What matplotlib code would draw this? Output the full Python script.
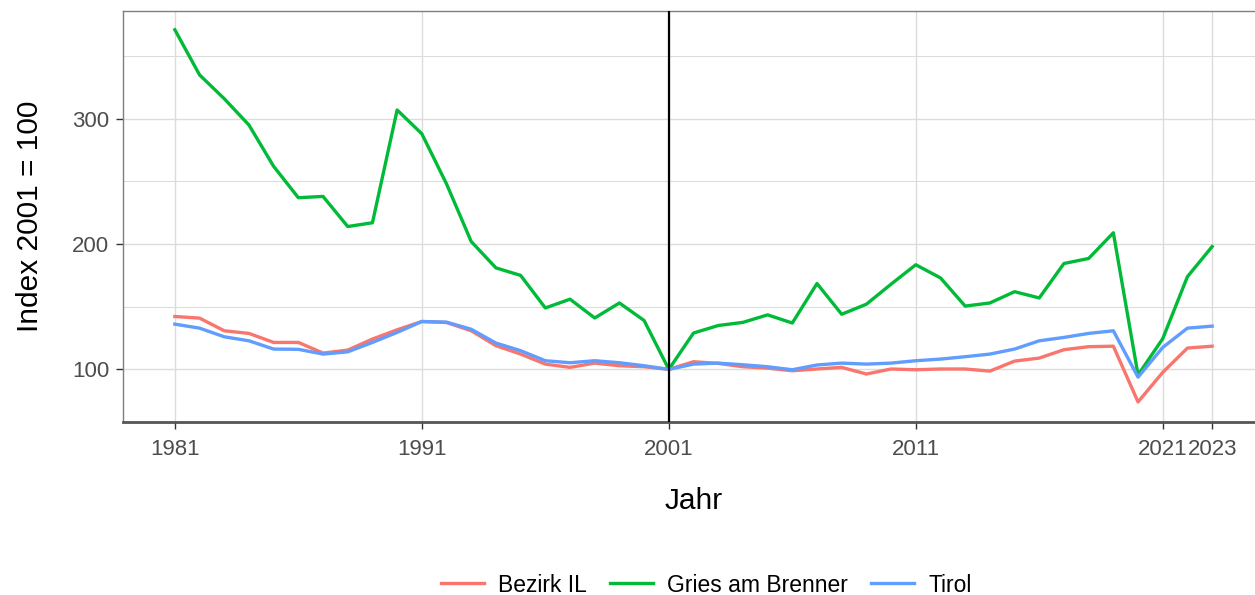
import matplotlib
matplotlib.use("Agg")
import matplotlib.pyplot as plt
from matplotlib.ticker import FixedLocator

plt.rcParams['font.family'] = ['Liberation Sans', 'DejaVu Sans']

years = list(range(1981, 2024))

gries = [371, 335, 316, 295, 262, 237, 238, 214, 217, 307,
         288, 248, 202, 181, 175, 149, 156, 141, 153, 139,
         100, 129, 135, 137.5, 143.5, 137, 168.5, 144, 152, 168,
         183.5, 173, 150.5, 153, 162, 157, 184.5, 188.5, 209,
         95.5, 124.5, 174, 198]

bezirk = [142.2, 140.9, 130.8, 128.7, 121.5, 121.5, 113, 115.4, 124.2, 131.6,
          138.2, 137.4, 130.8, 118.9, 112.2, 104.2, 101.6, 105, 102.9, 102.1,
          100, 106.1, 104.8, 102.1, 101, 98.9, 100.3, 101.6, 96.3, 100.3,
          99.7, 100.3, 100.3, 98.6, 106.6, 109, 115.7, 118.1, 118.5,
          74, 97.6, 117, 118.5]

tirol = [136.1, 132.9, 126, 122.8, 116.2, 116, 112.2, 114, 121.5, 129.5,
         138.2, 137.7, 132, 121, 114.9, 106.9, 105.3, 106.9, 105.3, 102.9,
         100, 104.2, 105, 103.7, 102.1, 99.7, 103.5, 105, 104.2, 105,
         106.9, 108.2, 110.1, 112.2, 116.2, 122.8, 125.5, 128.7, 130.8,
         93.8, 117.5, 132.9, 134.5]

series_names = ["Bezirk IL", "Gries am Brenner", "Tirol"]
series_colors = ["#F8766D", "#00BA38", "#619CFF"]
x_ticks = [1981, 1991, 2001, 2011, 2021, 2023]
y_ticks = [100, 200, 300]
y_minor = [150, 250, 350]

W, H = 1255, 595
fig = plt.figure(figsize=(W / 100, H / 100), dpi=100)
left, right, top, bottom = 123, 1264, 11, 422
ax = fig.add_axes([left / W, 1 - bottom / H, (right - left) / W, (bottom - top) / H])

ax.set_facecolor("white")
for vals, name, col in zip([bezirk, gries, tirol], series_names, series_colors):
    ax.plot(years, vals, color=col, lw=2.4, label=name, solid_joinstyle='round', zorder=3)

ax.axvline(2001, color="black", lw=1.6, zorder=4)

ax.set_xlim(1981 - 2.1, 2023 + 2.1)
ax.set_ylim(58, 386)
ax.set_xticks(x_ticks)
ax.set_xticklabels([str(t) for t in x_ticks])
ax.set_yticks(y_ticks)
ax.yaxis.set_minor_locator(FixedLocator(y_minor))
ax.grid(which='major', color="#DCDCDC", lw=1.0, zorder=0)
ax.grid(which='minor', axis='y', color="#DCDCDC", lw=0.8, zorder=0)
ax.set_axisbelow(True)

ax.tick_params(axis='x', which='major', length=5, width=1, color="#333333",
               labelsize=16, labelcolor="#4D4D4D", pad=7)
ax.tick_params(axis='y', which='major', length=5, width=1, color="#333333",
               labelsize=16, labelcolor="#4D4D4D", pad=5)
ax.tick_params(axis='y', which='minor', length=0)

for s in ['left', 'top', 'right']:
    ax.spines[s].set_color("#7F7F7F")
    ax.spines[s].set_linewidth(1.0)
ax.spines['bottom'].set_color("#555555")
ax.spines['bottom'].set_linewidth(2.0)

ax.set_xlabel("Jahr", fontsize=21.5, labelpad=20)
ax.set_ylabel("Index 2001 = 100", fontsize=21.5, labelpad=20)

handles, labels = ax.get_legend_handles_labels()
fig.legend(handles, labels, loc='center', bbox_to_anchor=(706 / W, 1 - 585 / H),
           ncol=3, frameon=False, fontsize=16.5, handlelength=1.9,
           columnspacing=1.0, handletextpad=0.6)

fig.savefig("out.png", dpi=100)
